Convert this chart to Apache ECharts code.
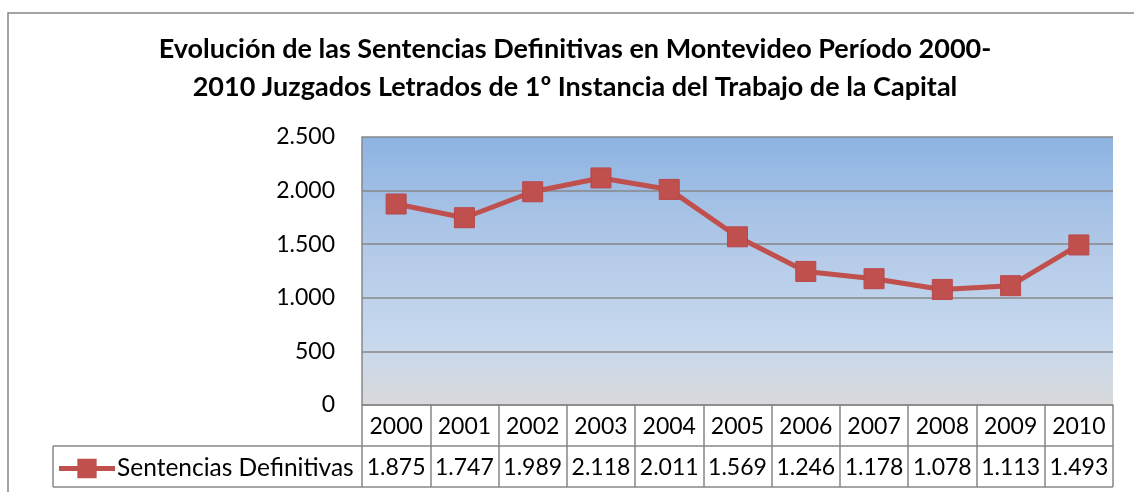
<!DOCTYPE html>
<html><head><meta charset="utf-8">
<script src="https://cdn.jsdelivr.net/npm/echarts@6/dist/echarts.min.js"></script>
<style>html,body{margin:0;padding:0;background:#fff}#c{width:1134px;height:492px}</style>
</head><body><div id="c"></div>
<script>
const titleLines = ['Evolución de las Sentencias Definitivas en Montevideo Período 2000-', '2010 Juzgados Letrados de 1º Instancia del Trabajo de la Capital'];
const years = ['2000','2001','2002','2003','2004','2005','2006','2007','2008','2009','2010'];
const seriesName = 'Sentencias Definitivas';
const values = [1875, 1747, 1989, 2118, 2011, 1569, 1246, 1178, 1078, 1113, 1493];
const yTicks = [0, 500, 1000, 1500, 2000, 2500];

const fmt = v => String(v).replace(/\B(?=(\d{3})+(?!\d))/g, '.');
const FONT = 'Lato, "Liberation Sans", sans-serif';
const GRID = '#878787';
const RED = '#C0504D';
const LEGEND_ICON = 'path://M0,7.5L19,7.5L19,0L39,0L39,7.5L58,7.5L58,12.5L39,12.5L39,20L19,20L19,12.5L0,12.5Z';

const chart = echarts.init(document.getElementById('c'), null, {renderer: 'canvas'});
chart.setOption({
  animation: false,
  backgroundColor: '#fff',
  grid: {
    left: 362, right: 21, top: 137, bottom: 87, show: true, borderWidth: 0,
    backgroundColor: {type: 'linear', x: 0, y: 0, x2: 0, y2: 1, colorStops: [
      {offset: 0, color: '#8DB3E2'}, {offset: 0.45, color: '#B5CBE8'},
      {offset: 0.75, color: '#C6D8EE'}, {offset: 1, color: '#D8D9DB'}]}
  },
  legend: {
    show: true, left: 59, top: 456, padding: 0, itemWidth: 56, itemHeight: 20, itemGap: 0,
    data: [{name: seriesName, icon: LEGEND_ICON, itemStyle: {color: RED, borderWidth: 0}}],
    textStyle: {fontFamily: FONT, fontSize: 24.5, color: '#000', padding: [0, 0, 0, -3]}
  },
  xAxis: [{
    type: 'category', data: years, position: 'bottom', boundaryGap: true,
    axisLine: {show: true, lineStyle: {color: GRID, width: 1.5}},
    axisTick: {show: true, interval: 0, length: 82, lineStyle: {color: GRID, width: 1.5}},
    axisLabel: {interval: 0, margin: 10, fontFamily: FONT, fontSize: 23, color: '#000'}
  }, {
    type: 'category', data: values.map(fmt), position: 'bottom', offset: 41, boundaryGap: true,
    axisLine: {show: false}, axisTick: {show: false},
    axisLabel: {interval: 0, margin: 10, fontFamily: FONT, fontSize: 23, color: '#000'}
  }],
  yAxis: {
    type: 'value', min: yTicks[0], max: yTicks[yTicks.length - 1], interval: 500,
    axisLine: {show: true, lineStyle: {color: GRID, width: 1.5}},
    axisTick: {show: false},
    splitLine: {show: true, lineStyle: {color: GRID, width: 1.5}},
    axisLabel: {margin: 27, formatter: v => fmt(v), fontFamily: FONT, fontSize: 23, color: '#000'}
  },
  series: [{
    name: seriesName, type: 'line', data: values, xAxisIndex: 0,
    symbol: 'rect', symbolSize: 20,
    lineStyle: {color: RED, width: 5},
    itemStyle: {color: RED, borderColor: '#B8484A', borderWidth: 1}
  }],
  graphic: [
    {type: 'rect', shape: {x: 8, y: 13, width: 1200, height: 600}, style: {fill: null, stroke: GRID, lineWidth: 1.5}, silent: true, z: -1},
    {type: 'text', x: 575, y: 36, style: {text: titleLines[0], textAlign: 'center', font: 'bold 27px ' + FONT, fill: '#000'}},
    {type: 'text', x: 575, y: 74, style: {text: titleLines[1], textAlign: 'center', font: 'bold 27px ' + FONT, fill: '#000'}},
    {type: 'line', shape: {x1: 53, y1: 446, x2: 1113, y2: 446}, style: {stroke: GRID, lineWidth: 1.5}},
    {type: 'line', shape: {x1: 53, y1: 487, x2: 1113, y2: 487}, style: {stroke: GRID, lineWidth: 1.5}},
    {type: 'line', shape: {x1: 53, y1: 446, x2: 53, y2: 487}, style: {stroke: GRID, lineWidth: 1.5}}
  ]
});
</script></body></html>
